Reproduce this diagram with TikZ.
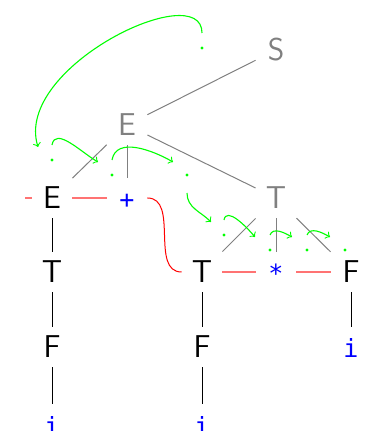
\documentclass[tikz,border=0pt]{standalone}
\usepackage{fontspec}
\newfontfamily\termfont{DejaVu Sans Mono}
\begin{document}
\begin{tikzpicture}[x=0.5pt, y=0.5pt]

% --- Stijlen ---
\tikzset{
    symbol/.style={font=\fontsize{15.8}{19}\selectfont\sffamily, minimum width=20pt, minimum height=20pt, inner sep=0pt, text height=11pt, text depth=0pt},
    done/.style={symbol, text=black},
    todo/.style={symbol, text=gray},
    term/.style={symbol, text=blue, font=\fontsize{12.5}{15}\selectfont\termfont},
    branch/.style={draw=gray, line width=0.5pt},
    leaf/.style={draw=black, line width=0.5pt},
    handle/.style={draw=red!55, line width=1pt},
    seam/.style={draw=red, line width=0.5pt},
    itemdot/.style={circle, fill=green, inner sep=0pt, minimum size=1.6pt},
    jump/.style={->, draw=green, line width=0.55pt}
}

    \useasboundingbox (0,0) rectangle (367,431);

    % Bovenste deel van de boom (nog niet af)
    \node[todo] (s) at (276, 381) {S};
    \node[todo] (e1) at (127, 306) {E};
    \node[todo] (t1) at (276, 233) {T};

    % Afgemaakte deelbomen
    \node[done] (e2) at (52, 233) {E};
    \node[term] (plus) at (127, 233) {+};
    \node[done] (t2) at (202, 159) {T};
    \node[term] (star) at (276, 159) {*};
    \node[done] (f1) at (351, 159) {F};
    \node[done] (t3) at (52, 159) {T};
    \node[done] (f3) at (52, 84) {F};
    \node[term] (i3) at (52, 7) {i};
    \node[done] (f2) at (202, 84) {F};
    \node[term] (i2) at (202, 7) {i};
    \node[term] (i1) at (351, 84) {i};

    % Takken
    \draw[branch] (s) -- (e1);
    \draw[branch] (e1) -- (t1);
    \draw[branch] (e1) -- (e2);
    \draw[branch] (e1) -- (plus);
    \draw[branch] (t1) -- (t2);
    \draw[branch] (t1) -- (star);
    \draw[branch] (t1) -- (f1);

    \draw[leaf] (e2) -- (t3);
    \draw[leaf] (t3) -- (f3);
    \draw[leaf] (f3) -- (i3);
    \draw[leaf] (t2) -- (f2);
    \draw[leaf] (f2) -- (i2);
    \draw[leaf] (f1) -- (i1);

    % Rand van de stapel
    \coordinate (lft) at (25, 233);
    \draw[handle] (lft) -- (e2);
    \draw[handle] (e2) -- (plus);
    \draw[seam] (plus) to[out=0, in=180] (t2);
    \draw[handle] (t2) -- (star);
    \draw[handle] (star) -- (f1);

    % Punten van de items
    \node[itemdot] (d1) at (202, 383) {};
    \node[itemdot] (d2) at (52, 271) {};
    \node[itemdot] (d3) at (112, 256) {};
    \node[itemdot] (d4) at (187, 256) {};
    \node[itemdot] (d5) at (224, 196) {};
    \node[itemdot] (d6) at (270, 181) {};
    \node[itemdot] (d7) at (307, 181) {};
    \node[itemdot] (d8) at (345, 181) {};

    % Sprongen tussen de punten
    \draw[jump] ([yshift=7.5pt]d1.center) to[out=90, in=107, out distance=28pt, in distance=42pt] ([shift={(-7pt,6.5pt)}]d2.center);
    \draw[jump] ([yshift=7.5pt]d2.center) to[out=80, in=150] ([shift={(-7pt,6.5pt)}]d3.center);
    \draw[jump] ([yshift=7.5pt]d3.center) to[out=80, in=150] ([shift={(-7pt,6.5pt)}]d4.center);
    \draw[jump] ([yshift=-9pt]d4.center) to[out=-90, in=135] ([shift={(-6.5pt,6.5pt)}]d5.center);
    \draw[jump] ([yshift=7.5pt]d5.center) to[out=80, in=130] ([shift={(-7.5pt,6.5pt)}]d6.center);
    \draw[jump] ([yshift=7.5pt]d6.center) to[out=70, in=150] ([shift={(-7.5pt,6.5pt)}]d7.center);
    \draw[jump] ([yshift=7.5pt]d7.center) to[out=70, in=150] ([shift={(-7.5pt,6.5pt)}]d8.center);

\end{tikzpicture}
\end{document}
